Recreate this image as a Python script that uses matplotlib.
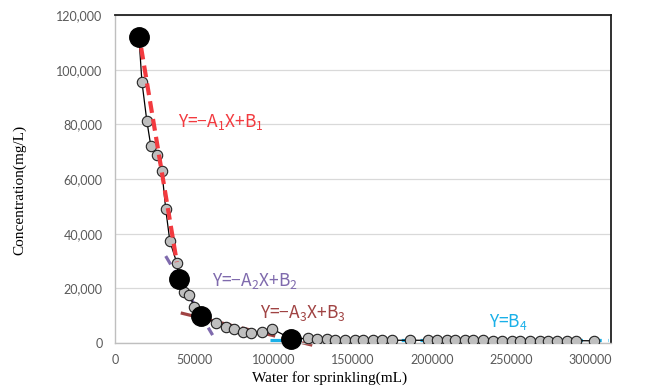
import matplotlib
matplotlib.use("Agg")
import matplotlib.pyplot as plt
from matplotlib.ticker import FuncFormatter

plt.rcParams['lines.scale_dashes'] = False
plt.rcParams['mathtext.fontset'] = 'custom'
plt.rcParams['mathtext.rm'] = 'Noto Sans CJK JP'
plt.rcParams['mathtext.it'] = 'Noto Sans CJK JP'

# ---- data ----
water_ml = [15100, 17000, 20100, 22600, 26400, 29600, 32000, 34600, 39000, 40250,
            43400, 47000, 50000, 54000, 64000, 69800, 74800, 80500, 86000, 92500,
            99000, 111300, 122000, 127700, 134000, 139000, 145300, 151600, 156600,
            162900, 168500, 174800, 186200, 197500, 203100, 209400, 214500, 220700,
            225800, 232100, 238400, 244000, 250300, 255300, 261600, 267900, 273000,
            279200, 285500, 291200, 302500]
conc_mgl = [112000, 95500, 81200, 72100, 68800, 62900, 49000, 37300, 29300, 23400,
            18700, 17600, 13200, 9900, 7300, 6000, 5000, 4000, 3700, 4000,
            5200, 1500, 1700, 1500, 1300, 1200, 1200, 1100, 1100,
            1100, 1000, 1000, 1000, 1000, 1000, 1000, 950, 950,
            950, 950, 900, 900, 900, 900, 900, 900, 850,
            850, 850, 850, 800]

key_x = [15100, 40250, 54000, 111300]
key_y = [112000, 23400, 9900, 1500]

fit1_x = [16500, 39000];  fit1_y = [108000, 29600]
fit2_x = [32000, 61600];  fit2_y = [31800, 2900]
fit3_x = [41500, 124500]; fit3_y = [11000, -800]
fit4_x = [98000, 311000]; fit4_y = [1100, 1100]

x_ticks = [0, 50000, 100000, 150000, 200000, 250000, 300000]
y_ticks = [0, 20000, 40000, 60000, 80000, 100000, 120000]

labels = ["Y=\u2212A$_1$X+B$_1$", "Y=\u2212A$_2$X+B$_2$", "Y=\u2212A$_3$X+B$_3$", "Y=B$_4$"]

# ---- figure ----
W, H = 645, 388
fig = plt.figure(figsize=(W/100, H/100), dpi=100)
L, R, T, B = 115, 611, 15, 343
ax = fig.add_axes([L/W, 1-B/H, (R-L)/W, (B-T)/H])
ax.set_xlim(0, 313000)
ax.set_ylim(0, 120000)

ax.set_yticks(y_ticks)
ax.set_xticks(x_ticks)
ax.yaxis.set_major_formatter(FuncFormatter(lambda v, p: f"{int(v):,}"))
ax.xaxis.set_major_formatter(FuncFormatter(lambda v, p: f"{int(v)}"))
ax.tick_params(axis='both', length=0, labelsize=9, labelcolor='#595959')
ax.tick_params(axis='y', pad=9)
ax.tick_params(axis='x', pad=8)
for lab in ax.get_xticklabels() + ax.get_yticklabels():
    lab.set_family(['Lato', 'DejaVu Sans'])

ax.grid(axis='y', color='#D9D9D9', lw=0.9)
ax.set_axisbelow(True)
for s in ['left', 'bottom']:
    ax.spines[s].set_color('#BFBFBF')
    ax.spines[s].set_linewidth(1.0)
for s in ['top', 'right']:
    ax.spines[s].set_color('#202020')
    ax.spines[s].set_linewidth(1.3)

# main series
ax.plot(water_ml, conc_mgl, '-', color='black', lw=0.9, marker='o', ms=7.5,
        mfc='#BFBFBF', mec='#222222', mew=0.8, zorder=3)

# fitted lines
ax.plot(fit1_x, fit1_y, color='#F23A3F', lw=3.0, dashes=(8.5, 4.5), zorder=4, clip_on=False)
ax.plot(fit2_x, fit2_y, color='#7F6AAD', lw=2.3, dashes=(7, 5), zorder=2, clip_on=False)
ax.plot(fit3_x, fit3_y, color='#A04343', lw=2.3, dashes=(10, 5), zorder=2, clip_on=False)
ax.plot(fit4_x, fit4_y, color='#1AB0E8', lw=2.3, dashes=(9, 4.5), zorder=2, clip_on=False)

# key points
ax.plot(key_x, key_y, 'o', color='black', ms=14, zorder=5, clip_on=False)

fam = ['Noto Sans CJK JP', 'DejaVu Sans']
def ftext(px, py, s, color, size=12.5, **kw):
    fig.text(px/W, 1-py/H, s, color=color, fontsize=size, family=fam, va='center', **kw)

ftext(178, 122, labels[0], '#F23A3F')
ftext(212, 281, labels[1], '#7F6AAD')
ftext(260, 313, labels[2], '#A04343')
ftext(489, 322, labels[3], '#1AB0E8')

fig.text(330/W, 1-378/H, 'Water for sprinkling(mL)', family='Liberation Serif',
         fontsize=11, ha='center', va='center')
fig.text(20/W, 1-190/H, 'Concentration(mg/L)', family='Liberation Serif',
         fontsize=11, ha='center', va='center', rotation=90)

fig.savefig('out.png', dpi=100)
